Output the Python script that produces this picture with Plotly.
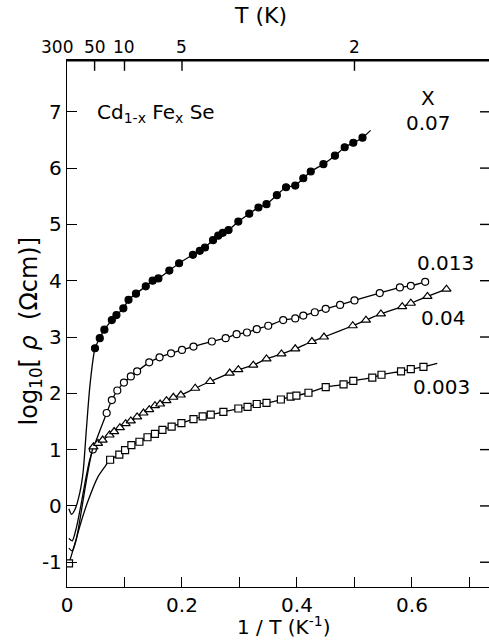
import plotly.graph_objects as go

# ---- data (1/T in K^-1, log10 rho) ----
x07 = [0.0487, 0.057, 0.065, 0.078, 0.086, 0.098, 0.107, 0.12, 0.137, 0.149, 0.159, 0.178, 0.195,
       0.219, 0.231, 0.240, 0.254, 0.263, 0.271, 0.281, 0.298, 0.317, 0.333, 0.347, 0.365, 0.381,
       0.397, 0.411, 0.424, 0.446, 0.466, 0.483, 0.498, 0.514]
y07 = [2.80, 2.98, 3.13, 3.30, 3.39, 3.51, 3.66, 3.77, 3.90, 4.00, 4.04, 4.18, 4.31,
       4.46, 4.53, 4.59, 4.72, 4.80, 4.85, 4.90, 5.05, 5.19, 5.30, 5.36, 5.52, 5.66,
       5.69, 5.82, 5.94, 6.07, 6.22, 6.37, 6.45, 6.54]
fit07_x = [0.0033, 0.008, 0.014, 0.0226, 0.028, 0.034, 0.040, 0.528]
fit07_y = [-0.05, -0.15, -0.06, 0.25, 0.6, 1.4, 2.15, 6.67]

x013 = [0.045, 0.069, 0.078, 0.0875, 0.099, 0.111, 0.122, 0.143, 0.161, 0.181, 0.2, 0.22, 0.252,
        0.276, 0.295, 0.313, 0.33, 0.350, 0.376, 0.397, 0.411, 0.431, 0.45, 0.475, 0.5, 0.544,
        0.579, 0.598, 0.623]
y013 = [1.0, 1.65, 1.88, 2.05, 2.19, 2.30, 2.39, 2.55, 2.64, 2.71, 2.77, 2.83, 2.92,
        2.98, 3.05, 3.08, 3.14, 3.20, 3.30, 3.33, 3.38, 3.44, 3.50, 3.57, 3.65, 3.78,
        3.88, 3.91, 3.98]
fit013_x = [0.0033, 0.009, 0.016, 0.024, 0.032, 0.039]
fit013_y = [-0.58, -0.62, -0.4, 0.0, 0.45, 0.8]

x04 = [0.046, 0.054, 0.062, 0.074, 0.082, 0.092, 0.102, 0.111, 0.122, 0.133, 0.143, 0.153, 0.162,
       0.173, 0.185, 0.198, 0.223, 0.249, 0.283, 0.298, 0.324, 0.347, 0.373, 0.397, 0.426, 0.447,
       0.497, 0.52, 0.546, 0.583, 0.598, 0.627, 0.66]
y04 = [1.05, 1.11, 1.17, 1.26, 1.32, 1.39, 1.46, 1.51, 1.58, 1.65, 1.71, 1.78, 1.81,
       1.87, 1.93, 1.97, 2.09, 2.21, 2.36, 2.42, 2.50, 2.61, 2.70, 2.79, 2.92, 3.00,
       3.20, 3.30, 3.41, 3.54, 3.60, 3.72, 3.85]
fit04_x = [0.0033, 0.009, 0.016, 0.024, 0.032, 0.040]
fit04_y = [-0.75, -0.8, -0.6, -0.15, 0.35, 0.8]

x003 = [0.0035, 0.075, 0.091, 0.101, 0.112, 0.126, 0.14, 0.153, 0.166, 0.182, 0.199, 0.22, 0.236,
        0.25, 0.272, 0.298, 0.314, 0.33, 0.347, 0.372, 0.389, 0.399, 0.42, 0.45, 0.481, 0.498,
        0.531, 0.547, 0.581, 0.598, 0.62]
y003 = [-1.02, 0.82, 0.91, 0.99, 1.08, 1.14, 1.22, 1.28, 1.35, 1.41, 1.47, 1.54, 1.59,
        1.62, 1.67, 1.73, 1.76, 1.81, 1.83, 1.89, 1.94, 1.96, 2.01, 2.11, 2.16, 2.22,
        2.28, 2.33, 2.39, 2.43, 2.47]
fit003_x = [0.014, 0.0255, 0.037, 0.054, 0.066, 0.644]
fit003_y = [-0.66, -0.25, 0.1, 0.52, 0.7, 2.53]

series_labels = ["0.07", "0.013", "0.04", "0.003"]
label_x = [0.628, 0.659, 0.654, 0.652]
label_y = [6.80, 4.32, 3.34, 2.11]

top_tick_labels = ["300", "50", "10", "5", "2"]
top_tick_pos = [1 / 300, 0.048, 0.1, 0.2, 0.5]
x_ticks = [0, 0.1, 0.2, 0.3, 0.4, 0.5, 0.6, 0.7]
x_ticktext = ["0", " ", "0.2", " ", "0.4", " ", "0.6", " "]
y_ticks = [-1, 0, 1, 2, 3, 4, 5, 6, 7]
y_ticktext = ["-1", "0", "1", "2", "3", "4", "5", "6", "7"]

FONT = "DejaVu Sans"
W, H = 489, 640
ML, MR, MT, MB = 67, 0, 60, 53
XR = [0, 0.734]
YR = [-1.44, 7.92]
px_x = (W - ML - MR) / (XR[1] - XR[0])   # pixels per x unit
px_y = (H - MT - MB) / (YR[1] - YR[0])   # pixels per y unit

fig = go.Figure()


def add_series(mx, my, fx, fy, symbol, fill, size):
    pts = sorted(zip(list(mx) + list(fx), list(my) + list(fy)))
    fig.add_trace(go.Scatter(x=[p[0] for p in pts], y=[p[1] for p in pts], mode="lines",
                             line=dict(color="black", width=1.3, shape="spline", smoothing=0.7),
                             showlegend=False, hoverinfo="skip"))
    fig.add_trace(go.Scatter(x=mx, y=my, mode="markers", showlegend=False,
                             marker=dict(symbol=symbol, size=size, color=fill,
                                         line=dict(color="black", width=1.2))))


add_series(x07, y07, fit07_x, fit07_y, "circle", "black", 7)
add_series(x013, y013, fit013_x, fit013_y, "circle", "white", 7)
add_series(x04, y04, fit04_x, fit04_y, "triangle-up", "white", 8)
add_series(x003, y003, fit003_x, fit003_y, "square", "white", 7)

# frame decorations built from the tick lists: top line, temperature ticks, right ticks
y_top = YR[1] - 0.8 / px_y
fx, fy = [XR[0], XR[1], None], [y_top, y_top, None]
for p in top_tick_pos[1:]:
    fx += [p, p, None]
    fy += [y_top, y_top - 10 / px_y, None]
for v in y_ticks:
    fx += [XR[1] - 9 / px_x, XR[1], None]
    fy += [v, v, None]
fig.add_trace(go.Scatter(x=fx, y=fy, mode="lines", line=dict(color="black", width=1.4),
                         showlegend=False, hoverinfo="skip"))

fig.update_layout(
    width=W, height=H,
    margin=dict(l=ML, r=MR, t=MT, b=MB),
    paper_bgcolor="white", plot_bgcolor="white",
    font=dict(family=FONT, color="black", size=20),
    xaxis=dict(range=XR, tickvals=x_ticks, ticktext=x_ticktext, ticks="inside", ticklen=10,
               tickwidth=1.3, tickcolor="black", showline=True, mirror=True, linecolor="black",
               linewidth=1.3, showgrid=False, zeroline=False, tickfont=dict(size=20, family=FONT)),
    yaxis=dict(range=YR, tickvals=y_ticks, ticktext=y_ticktext,
               ticks="inside", ticklen=10, tickwidth=1.3, tickcolor="black", showline=True,
               linecolor="black", linewidth=1.3, showgrid=False, zeroline=False,
               tickfont=dict(size=20, family=FONT)),
)

for t, p in zip(top_tick_labels, top_tick_pos):
    fig.add_annotation(x=p, y=1, xref="x", yref="paper", yanchor="bottom", yshift=1,
                       xshift=-12 if t == "300" else 0, text=t, showarrow=False,
                       font=dict(size=17, family=FONT))
fig.add_annotation(x=0.336, y=1, xref="x", yref="paper", yanchor="middle", yshift=45,
                   text="T (K)", showarrow=False, font=dict(size=22, family=FONT))
fig.add_annotation(x=0.376, y=0, xref="x", yref="paper", yanchor="middle", yshift=-39,
                   text="1 / T (K<sup>-1</sup>)", showarrow=False, font=dict(size=20, family=FONT))
fig.add_annotation(x=0, y=3.1, xref="paper", yref="y", xanchor="center", xshift=-37,
                   text="log<sub>10</sub>[ <i>ρ</i>  (Ωcm)]", textangle=-90, showarrow=False,
                   font=dict(size=24, family=FONT))
fig.add_annotation(x=0.048, y=6.98, xref="x", yref="y", xanchor="left",
                   text="Cd<sub>1-x</sub> Fe<sub>x</sub> Se", showarrow=False,
                   font=dict(size=20, family=FONT))
fig.add_annotation(x=0.628, y=7.25, xref="x", yref="y", text="X", showarrow=False,
                   font=dict(size=20, family=FONT))
for t, lx, ly in zip(series_labels, label_x, label_y):
    fig.add_annotation(x=lx, y=ly, xref="x", yref="y", text=t, showarrow=False,
                       font=dict(size=20, family=FONT))

fig.write_html("out.html")
